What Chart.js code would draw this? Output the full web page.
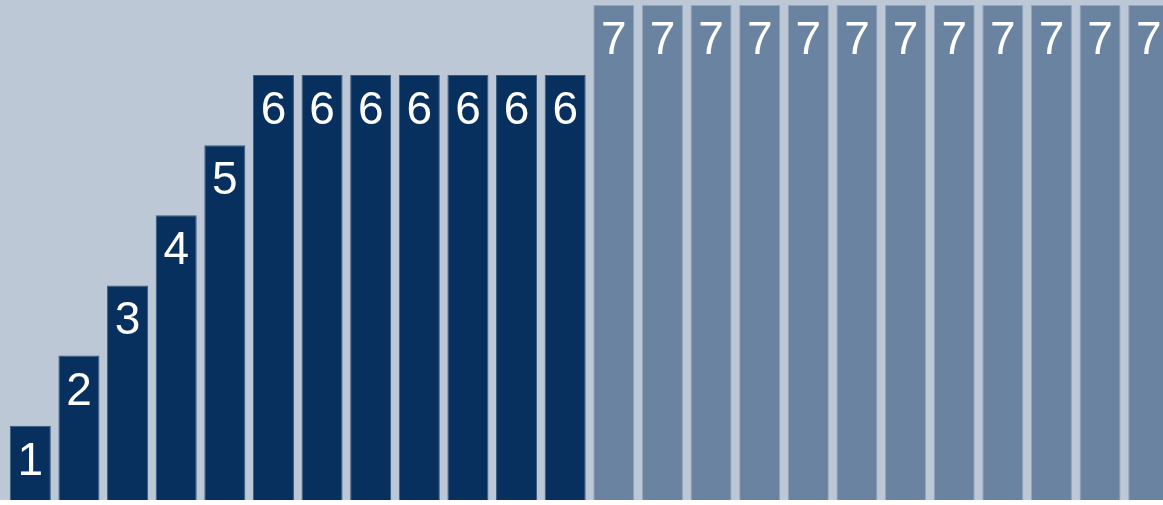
<!DOCTYPE html>
<html>
<head>
<meta charset="utf-8">
<script src="https://cdn.jsdelivr.net/npm/chart.js@4/dist/chart.umd.min.js"></script>
<style>
    html, body { margin: 0; padding: 0; background: #ffffff; overflow: hidden; }
    #wrap { width: 1163px; height: 505px; overflow: hidden; position: relative;
            background: linear-gradient(to bottom, #bcc8d6 0px, #bcc8d6 500px, #ffffff 500px); }
    #chart { position: absolute; left: 0; top: 0; }
</style>
</head>
<body>
<div id="wrap"><canvas id="chart" width="1173" height="505"></canvas></div>
<script>
var categories = ['1', '2', '3', '4', '5', '6', '7', '8', '9', '10', '11', '12',
                  '13', '14', '15', '16', '17', '18', '19', '20', '21', '22', '23', '24'];
var values = [1, 2, 3, 4, 5, 6, 6, 6, 6, 6, 6, 6,
              7, 7, 7, 7, 7, 7, 7, 7, 7, 7, 7, 7];
var darkCount = 12;

document.addEventListener("DOMContentLoaded", function () {
    var fill = values.map(function (v, i) { return i < darkCount ? '#08305e' : '#6a83a1'; });
    var edge = values.map(function (v, i) { return i < darkCount ? '#3a5a80' : '#94a6bc'; });

    // white value labels near top of each bar
    var barLabels = {
        id: 'barLabels',
        afterDatasetsDraw: function (chart) {
            var ctx = chart.ctx;
            var meta = chart.getDatasetMeta(0);
            ctx.save();
            ctx.fillStyle = '#ffffff';
            ctx.font = '46px "Liberation Sans", Arial, sans-serif';
            ctx.textAlign = 'center';
            ctx.textBaseline = 'alphabetic';
            meta.data.forEach(function (bar, i) {
                ctx.fillText(String(values[i]), bar.x, bar.y + 49);
            });
            ctx.restore();
        }
    };

    var ctx = document.getElementById('chart').getContext('2d');
    new Chart(ctx, {
        type: 'bar',
        data: {
            labels: categories,
            datasets: [{
                data: values,
                base: -0.06,
                backgroundColor: fill,
                borderColor: edge,
                borderWidth: 1,
                categoryPercentage: 1,
                barPercentage: 0.844
            }]
        },
        options: {
            responsive: false,
            animation: false,
            layout: { padding: { left: 6, top: 5, bottom: 5, right: 0 } },
            plugins: { legend: { display: false }, tooltip: { enabled: false } },
            scales: {
                x: { display: false },
                y: { display: false, min: -0.06, max: 7 }
            }
        },
        plugins: [barLabels]
    });
});
</script>
</body>
</html>
